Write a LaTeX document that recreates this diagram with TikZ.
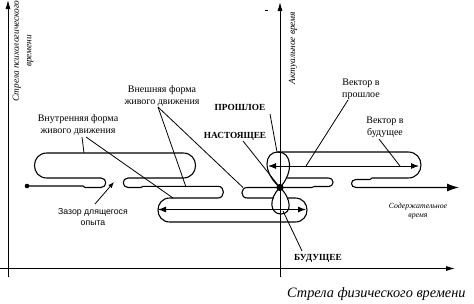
\documentclass[tikz,border=0pt]{standalone}
\usepackage{fontspec}
\setmainfont{Liberation Serif}
\setsansfont{Liberation Sans}
\usetikzlibrary{arrows.meta}
\begin{document}
\begin{tikzpicture}[x=1pt,y=-1pt,
  axis/.style={line width=0.9pt,-{Latex[length=9pt,width=5pt]}},
  loop/.style={line width=1.1pt,line cap=round,line join=round},
  ptr/.style={line width=0.8pt},
  dbl/.style={line width=1pt,{Latex[length=8pt,width=6pt]}-{Latex[length=8pt,width=6pt]}},
  lbl/.style={font=\fontsize{10}{12}\selectfont,align=center,inner sep=0pt},
  capl/.style={font=\fontsize{9.3}{11}\selectfont\bfseries,inner sep=0pt},
  itl/.style={font=\fontsize{9.3}{12.5}\selectfont\itshape,align=center,inner sep=0pt},
  sml/.style={font=\fontsize{7.8}{9}\selectfont\itshape,align=center,inner sep=0pt},
  gapl/.style={font=\sffamily\fontsize{8.7}{11}\selectfont,align=center,inner sep=0pt}]
\useasboundingbox (0,0) rectangle (474,303);
\fill[white] (0,0) rectangle (474,303);
\clip (0,0) rectangle (474,303);

% axes
\coordinate (LA0) at (8,277);   \coordinate (LA1) at (8,0);
\coordinate (RA0) at (280,277); \coordinate (RA1) at (280,2);
\coordinate (BA0) at (0,268.5); \coordinate (BA1) at (455,268.5);
\draw[axis] (LA0) -- (LA1);
\draw[axis] (RA0) -- (RA1);
\draw[axis] (BA0) -- (BA1);
\coordinate (tk0) at (265,10); \coordinate (tk1) at (268,10);
\draw[line width=0.7pt] (tk0) -- (tk1);

% axis labels
\node[itl,rotate=90] (psy) at (23,51) {Стрела психологического\\времени};
\node[itl,rotate=90] (act) at (293,48) {Актуальное время};
\node[font=\fontsize{14.3}{16}\selectfont\itshape,anchor=west,inner sep=0pt] (phys) at (287,294) {Стрела физического времени};

% main line with loops
\coordinate (dot) at (27,186);
\coordinate (C) at (280,187.5);
\draw[loop] (dot) -- (83,186) -- (85,187.5) -- (101,187.5)
  .. controls (107.3,187.5) and (107.3,178) .. (101,178) -- (47,178)
  .. controls (30.3,178) and (30.3,153) .. (47,153) -- (183,153)
  .. controls (199.7,153) and (199.7,178) .. (183,178) -- (128,178)
  .. controls (121.7,178) and (121.7,187.5) .. (128,187.5) -- (141,187.5) -- (143,186.3) -- (218,186.3)
  .. controls (225.2,186.3) and (225.2,198) .. (218,198) -- (170,198)
  .. controls (154,198) and (154,222) .. (170,222) -- (295,222)
  .. controls (311,222) and (311,198) .. (295,198) -- (288,198);
% lower lobe
\draw[loop] (C) .. controls (268,199) and (270,214) .. (281,214) .. controls (292,214) and (292,199) .. (C);
% upper lobe
\draw[loop] (C) .. controls (262,172) and (264,152) .. (278,152) .. controls (292,152) and (294,172) .. (C);
% middle segment
\draw[loop] (273.5,198) -- (247,198)
  .. controls (240.3,198) and (240.3,187.5) .. (247,187.5) -- (312,187.5) -- (314,186.5) -- (328,186.5)
  .. controls (334.8,186.5) and (334.8,178) .. (328,178) -- (287.5,178);
% upper right loop and outgoing arrow
\draw[loop,-{Latex[length=12pt,width=8pt]}] (278,152) -- (408,152)
  .. controls (425.3,152) and (425.3,178) .. (408,178) -- (372,178) -- (370,179.5) -- (356,179.5)
  .. controls (350,179.5) and (350,187.5) .. (356,187.5) -- (459,187.5);
% double arrows
\coordinate (ua0) at (268,166); \coordinate (ua1) at (419,166);
\coordinate (la0) at (158,209.5); \coordinate (la1) at (306,209.5);
\draw[dbl] (ua0) -- (ua1);
\draw[dbl] (la0) -- (la1);
\fill (dot) circle (2.3pt);
\fill (C) circle (3.6pt);

% labels
\node[lbl] (ext) at (162,96) {Внешняя форма\\живого движения};
\node[lbl] (int) at (78,125) {Внутренняя форма\\живого движения};
\node[capl] (past) at (240,107) {ПРОШЛОЕ};
\node[capl] (now) at (235,136) {НАСТОЯЩЕЕ};
\node[capl] (fut) at (318,258) {БУДУЩЕЕ};
\node[lbl] (vpast) at (361,89) {Вектор в\\прошлое};
\node[lbl] (vfut) at (385,127) {Вектор в\\будущее};
\node[gapl] (gap) at (93,217) {Зазор длящегося\\опыта};
\node[sml] (cont) at (418,211) {Содержательное\\время};

% pointer lines
\coordinate (e0) at (158,107);
\coordinate (e1) at (186,187);
\coordinate (e2) at (243,187.5);
\draw[ptr] (e0) -- (e1);
\draw[ptr] (e0) -- (e2);
\coordinate (i0) at (82,137);
\coordinate (i1) at (84,153);
\coordinate (i2) at (86,137);
\coordinate (i3) at (173,198);
\draw[ptr] (i0) -- (i1);
\draw[ptr] (i2) -- (i3);
\coordinate (p0) at (270,114);
\coordinate (p1) at (277,152);
\draw[ptr] (p0) -- (p1);
\coordinate (n0) at (243,141);
\draw[ptr] (n0) -- (C);
\coordinate (vp0) at (348,100);
\coordinate (vp1) at (306,166);
\draw[ptr] (vp0) -- (vp1);
\coordinate (vf0) at (379,139);
\coordinate (vf1) at (400,166);
\draw[ptr] (vf0) -- (vf1);
\coordinate (f0) at (283,211);
\coordinate (f1) at (302,251);
\draw[ptr] (f0) -- (f1);
\coordinate (g0) at (95,204);
\coordinate (g1) at (114,182);
\draw[ptr,-{Latex[length=6pt,width=4.5pt]}] (g0) -- (g1);
\end{tikzpicture}
\end{document}
